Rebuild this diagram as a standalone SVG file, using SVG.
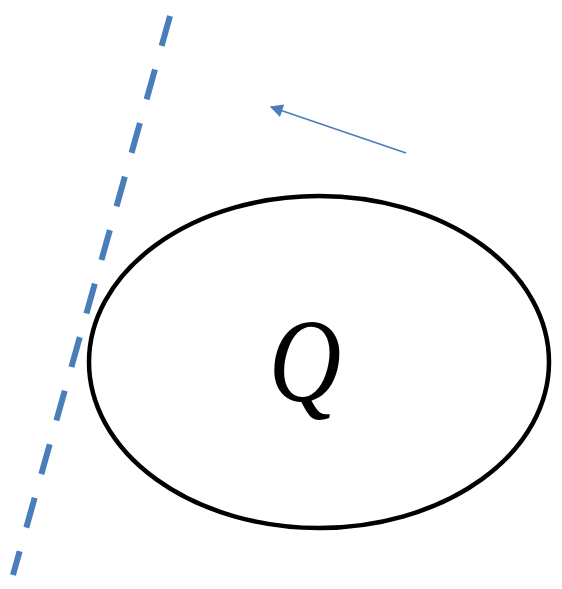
<svg xmlns="http://www.w3.org/2000/svg" width="562" height="589" viewBox="0 0 562 589">
<style>
.dash{stroke:#4a7ebb;stroke-width:6;stroke-dasharray:31 24.6;fill:none}
.arrow{stroke:#4a7ebb;stroke-width:1.6;fill:none}
.ell{stroke:#000;stroke-width:4.5;fill:none}
.lbl{font-family:"Liberation Serif","DejaVu Serif",serif;font-style:italic;font-size:118px;fill:#000}
</style>
<defs>
<marker id="ah" viewBox="0 0 10 10" refX="9" refY="5" markerWidth="15" markerHeight="13" markerUnits="userSpaceOnUse" orient="auto">
<path d="M0,0 L10,5 L0,10 z" fill="#4a7ebb"/>
</marker>
</defs>
<rect width="562" height="589" fill="#fff"/>
<g id="connectors">
<line class="dash" x1="170" y1="16" x2="13" y2="575"/>
<line class="arrow" x1="406" y1="153" x2="271" y2="107" marker-end="url(#ah)"/>
</g>
<g id="nodeQ">
<ellipse class="ell" cx="319" cy="362" rx="230" ry="166"/>
<text class="lbl" transform="translate(305,401) scale(0.85,1)" text-anchor="middle">Q</text>
</g>
</svg>
